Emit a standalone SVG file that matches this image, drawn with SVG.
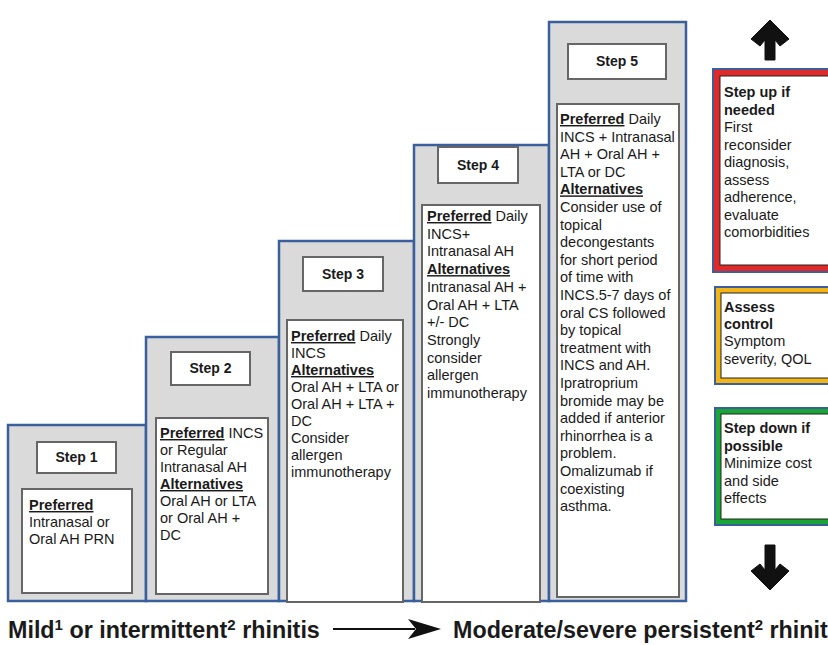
<svg xmlns="http://www.w3.org/2000/svg" width="828" height="645" viewBox="0 0 828 645">
<style>
.col{fill:#dadada;stroke:#3b5f9c;stroke-width:2.5}
.lbl{fill:#fff;stroke:#666;stroke-width:2}
.box{fill:#fff;stroke:#666;stroke-width:2}
.t{font-family:"Liberation Sans",Arial,sans-serif;font-size:14.5px;fill:#1a1a1a}
.b{font-weight:bold}
.u{font-weight:bold;text-decoration:underline}
.st{font-family:"Liberation Sans",Arial,sans-serif;font-size:14px;font-weight:bold;fill:#1a1a1a;text-anchor:middle}
.big{font-family:"Liberation Sans",Arial,sans-serif;font-size:23.3px;font-weight:bold;fill:#1a1a1a}
.sup{font-size:15px}
</style>
<rect width="828" height="645" fill="#fff"/>
<g id="step1">
<rect class="col" x="8" y="425" width="138" height="176"/>
<rect class="lbl" x="37" y="442" width="79" height="31"/>
<text class="st" x="76.5" y="462">Step 1</text>
<rect class="box" x="22" y="489" width="110" height="104"/>
<text class="t" x="29" y="510"><tspan class="u">Preferred</tspan><tspan x="29" dy="17">Intranasal or</tspan><tspan x="29" dy="17">Oral AH PRN</tspan></text>
</g>
<g id="step2">
<rect class="col" x="146" y="337" width="133" height="264"/>
<rect class="lbl" x="171" y="352" width="79" height="33"/>
<text class="st" x="210.5" y="373">Step 2</text>
<rect class="box" x="156" y="418" width="112" height="176"/>
<text class="t" x="160" y="438"><tspan class="u">Preferred</tspan> INCS<tspan x="160" dy="17">or Regular</tspan><tspan x="160" dy="17">Intranasal AH</tspan><tspan x="160" dy="17" class="u">Alternatives</tspan><tspan x="160" dy="17">Oral AH or LTA</tspan><tspan x="160" dy="17">or Oral AH +</tspan><tspan x="160" dy="17">DC</tspan></text>
</g>
<g id="step3">
<rect class="col" x="279" y="241" width="135" height="360"/>
<rect class="lbl" x="303" y="257" width="80" height="34"/>
<text class="st" x="343" y="279">Step 3</text>
<rect class="box" x="287" y="320" width="116" height="282"/>
<text class="t" x="291" y="341"><tspan class="u">Preferred</tspan> Daily<tspan x="291" dy="17">INCS</tspan><tspan x="291" dy="17" class="u">Alternatives</tspan><tspan x="291" dy="17">Oral AH + LTA or</tspan><tspan x="291" dy="17">Oral AH + LTA +</tspan><tspan x="291" dy="17">DC</tspan><tspan x="291" dy="17">Consider</tspan><tspan x="291" dy="17">allergen</tspan><tspan x="291" dy="17">immunotherapy</tspan></text>
</g>
<g id="step4">
<rect class="col" x="414" y="145" width="135" height="456"/>
<rect class="lbl" x="438" y="147" width="80" height="36"/>
<text class="st" x="478" y="170">Step 4</text>
<rect class="box" x="422" y="205" width="118" height="397"/>
<text class="t" x="427" y="221"><tspan class="u">Preferred</tspan> Daily<tspan x="427" dy="17.7">INCS+</tspan><tspan x="427" dy="17.7">Intranasal AH</tspan><tspan x="427" dy="17.7" class="u">Alternatives</tspan><tspan x="427" dy="17.7">Intranasal AH +</tspan><tspan x="427" dy="17.7">Oral AH + LTA</tspan><tspan x="427" dy="17.7">+/- DC</tspan><tspan x="427" dy="17.7">Strongly</tspan><tspan x="427" dy="17.7">consider</tspan><tspan x="427" dy="17.7">allergen</tspan><tspan x="427" dy="17.7">immunotherapy</tspan></text>
</g>
<g id="step5">
<rect class="col" x="549" y="22" width="137" height="579"/>
<rect class="lbl" x="568" y="44" width="98" height="35"/>
<text class="st" x="617" y="66">Step 5</text>
<rect class="box" x="557" y="104" width="122" height="493"/>
<text class="t" x="560" y="124"><tspan class="u">Preferred</tspan> Daily<tspan x="560" dy="17.6">INCS + Intranasal</tspan><tspan x="560" dy="17.6">AH + Oral AH +</tspan><tspan x="560" dy="17.6">LTA or DC</tspan><tspan x="560" dy="17.6" class="u">Alternatives</tspan><tspan x="560" dy="17.6">Consider use of</tspan><tspan x="560" dy="17.6">topical</tspan><tspan x="560" dy="17.6">decongestants</tspan><tspan x="560" dy="17.6">for short period</tspan><tspan x="560" dy="17.6">of time with</tspan><tspan x="560" dy="17.6">INCS.5-7 days of</tspan><tspan x="560" dy="17.6">oral CS followed</tspan><tspan x="560" dy="17.6">by topical</tspan><tspan x="560" dy="17.6">treatment with</tspan><tspan x="560" dy="17.6">INCS and AH.</tspan><tspan x="560" dy="17.6">Ipratroprium</tspan><tspan x="560" dy="17.6">bromide may be</tspan><tspan x="560" dy="17.6">added if anterior</tspan><tspan x="560" dy="17.6">rhinorrhea is a</tspan><tspan x="560" dy="17.6">problem.</tspan><tspan x="560" dy="17.6">Omalizumab if</tspan><tspan x="560" dy="17.6">coexisting</tspan><tspan x="560" dy="17.6">asthma.</tspan></text>
</g>
<g id="stepup">
<rect x="713" y="69" width="120" height="203" fill="#e02a2a" stroke="#3b5f9c" stroke-width="2"/>
<rect x="720" y="76" width="110" height="189" fill="#fff" stroke="#222" stroke-width="1"/>
<text class="t" x="724" y="97"><tspan class="b">Step up if</tspan><tspan x="724" dy="17.5" class="b">needed</tspan><tspan x="724" dy="17.5">First</tspan><tspan x="724" dy="17.5">reconsider</tspan><tspan x="724" dy="17.5">diagnosis,</tspan><tspan x="724" dy="17.5">assess</tspan><tspan x="724" dy="17.5">adherence,</tspan><tspan x="724" dy="17.5">evaluate</tspan><tspan x="724" dy="17.5">comorbidities</tspan></text>
</g>
<g id="assess">
<rect x="715" y="287" width="118" height="97" fill="#f2b518" stroke="#3b5f9c" stroke-width="2"/>
<rect x="721" y="293" width="110" height="85" fill="#fff" stroke="#222" stroke-width="1"/>
<text class="t" x="724" y="312"><tspan class="b">Assess</tspan><tspan x="724" dy="17.2" class="b">control</tspan><tspan x="724" dy="17.2">Symptom</tspan><tspan x="724" dy="17.2">severity, QOL</tspan></text>
</g>
<g id="stepdown">
<rect x="715" y="408" width="118" height="117" fill="#1aa637" stroke="#3b5f9c" stroke-width="2"/>
<rect x="721" y="414" width="110" height="105" fill="#fff" stroke="#222" stroke-width="1"/>
<text class="t" x="724" y="433"><tspan class="b">Step down if</tspan><tspan x="724" dy="17.5" class="b">possible</tspan><tspan x="724" dy="17.5">Minimize cost</tspan><tspan x="724" dy="17.5">and side</tspan><tspan x="724" dy="17.5">effects</tspan></text>
</g>
<g id="connectors">
<path d="M770,20 L789,39 L780,46 L775,40 L775,60 L765,60 L765,40 L760,46 L751,39 Z" fill="#111" stroke="#111" stroke-width="1" stroke-linejoin="round"/>
<path d="M770,590 L789,571 L780,564 L775,570 L775,545 L765,545 L765,570 L760,564 L751,571 Z" fill="#111" stroke="#111" stroke-width="1" stroke-linejoin="round"/>
<line x1="333" y1="629" x2="415" y2="629" stroke="#111" stroke-width="2"/>
<path d="M441,629 L408,619 L416,629 L408,639 Z" fill="#111"/>
</g>
<g id="captions">
<text class="big" x="8" y="638">Mild<tspan class="sup" dy="-8">1</tspan><tspan dy="8"> or intermittent</tspan><tspan class="sup" dy="-8">2</tspan><tspan dy="8"> rhinitis</tspan></text>
<text class="big" x="453" y="638">Moderate/severe persistent<tspan class="sup" dy="-8">2</tspan><tspan dy="8"> rhinitis</tspan></text>
</g>
</svg>
